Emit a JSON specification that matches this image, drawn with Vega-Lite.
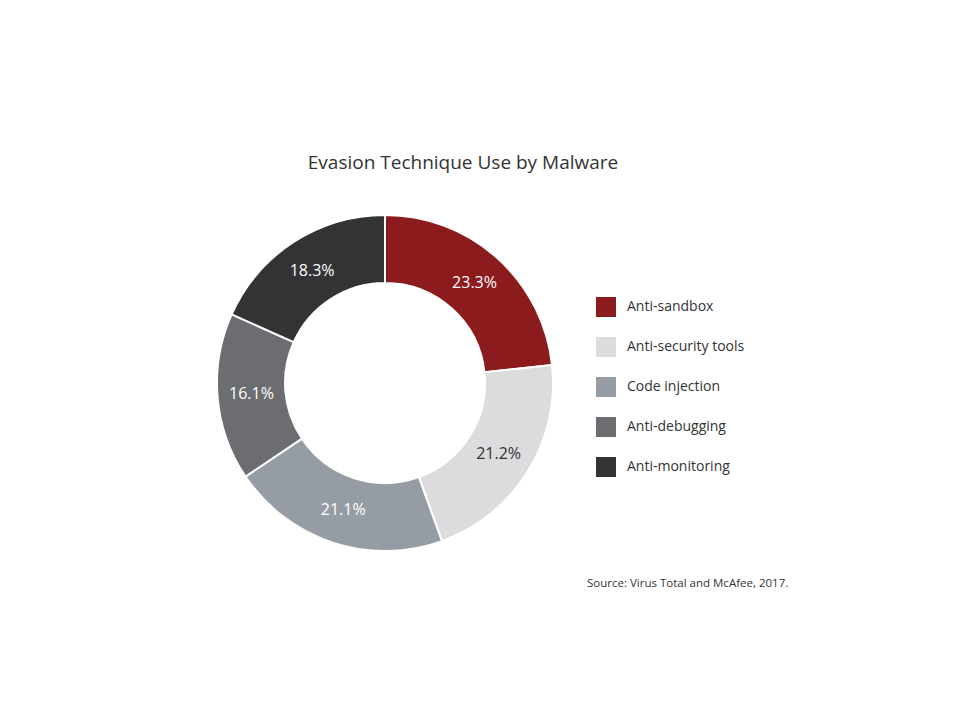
{
  "$schema": "https://vega.github.io/schema/vega-lite/v6.json",
  "autosize": {"type": "none"},
  "width": 336,
  "height": 336,
  "padding": {"left": 217, "top": 215, "right": 417, "bottom": 174},
  "background": "white",
  "config": {
    "view": {"stroke": null},
    "font": "Open Sans"
  },
  "title": {
    "text": "Evasion Technique Use by Malware",
    "font": "Open Sans",
    "fontSize": 19,
    "fontWeight": "normal",
    "color": "#333333",
    "anchor": "middle",
    "frame": "group",
    "dx": 78,
    "offset": 38
  },
  "data": {
    "values": [
      {"technique": "Anti-sandbox", "share": 23.3, "order": 1, "label": "23.3%", "dark": false},
      {"technique": "Anti-security tools", "share": 21.2, "order": 2, "label": "21.2%", "dark": true},
      {"technique": "Code injection", "share": 21.1, "order": 3, "label": "21.1%", "dark": false},
      {"technique": "Anti-debugging", "share": 16.1, "order": 4, "label": "16.1%", "dark": false},
      {"technique": "Anti-monitoring", "share": 18.3, "order": 5, "label": "18.3%", "dark": false}
    ]
  },
  "encoding": {
    "theta": {"field": "share", "type": "quantitative", "stack": true},
    "order": {"field": "order", "type": "quantitative"}
  },
  "layer": [
    {
      "mark": {"type": "arc", "innerRadius": 100, "outerRadius": 168, "stroke": "white", "strokeWidth": 2},
      "encoding": {
        "color": {
          "field": "technique",
          "type": "nominal",
          "sort": ["Anti-sandbox", "Anti-security tools", "Code injection", "Anti-debugging", "Anti-monitoring"],
          "scale": {
            "domain": ["Anti-sandbox", "Anti-security tools", "Code injection", "Anti-debugging", "Anti-monitoring"],
            "range": ["#8c1b1d", "#dcdcde", "#969ca3", "#6c6d70", "#333336"]
          },
          "legend": {
            "orient": "none",
            "legendX": 370,
            "legendY": 82,
            "title": "Source: Virus Total and McAfee, 2017.",
            "titleOrient": "bottom",
            "titleAnchor": "start",
            "titleFont": "Open Sans",
            "titleFontSize": 11.5,
            "titleFontWeight": "normal",
            "titleColor": "#333333",
            "titlePadding": 101,
            "titleLimit": 400,
            "padding": 0,
            "symbolType": "square",
            "symbolSize": 400,
            "symbolOffset": 9,
            "symbolStrokeWidth": 0,
            "symbolOpacity": 1,
            "rowPadding": 20,
            "labelOffset": 11,
            "labelFont": "Open Sans",
            "labelFontSize": 14,
            "labelColor": "#333333"
          }
        }
      }
    },
    {
      "mark": {"type": "text", "radius": 134, "font": "Open Sans", "fontSize": 16},
      "encoding": {
        "text": {"field": "label", "type": "nominal"},
        "color": {
          "condition": {"test": "datum.dark", "value": "#333333"},
          "value": "#ffffff"
        }
      }
    }
  ]
}
